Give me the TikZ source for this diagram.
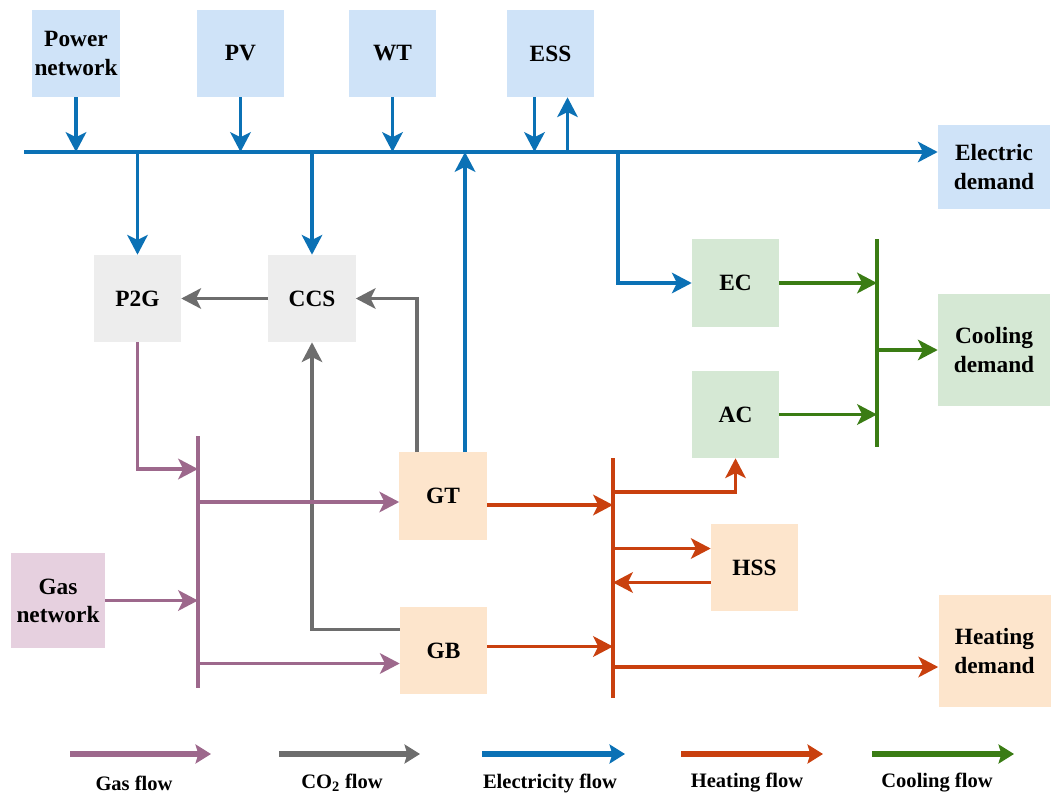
\documentclass[tikz,border=0pt]{standalone}
\usepackage{fontspec}
\setmainfont{Liberation Serif}
\usepackage{tikz}
\usetikzlibrary{arrows.meta,positioning,calc}
\usepackage{xcolor}
\definecolor{gascol}{RGB}{157,104,140}
\definecolor{cotwocol}{RGB}{109,109,109}
\definecolor{eleccol}{RGB}{11,113,181}
\definecolor{heatcol}{RGB}{201,64,14}
\definecolor{coolcol}{RGB}{58,124,20}
\definecolor{elecfill}{RGB}{207,227,248}
\definecolor{grayfill}{RGB}{237,237,237}
\definecolor{heatfill}{RGB}{253,229,204}
\definecolor{coolfill}{RGB}{213,232,212}
\definecolor{gasfill}{RGB}{230,208,223}

\begin{document}
\begin{tikzpicture}[x=0.025cm,y=-0.025cm,
  box/.style={minimum width=2.175cm,minimum height=2.175cm,inner sep=0pt,align=center,
    font=\fontsize{16.6}{20}\selectfont\bfseries},
  bigbox/.style={box,minimum width=2.8cm,minimum height=2.8cm},
  flow/.style={line width=2.6pt,-{Stealth[length=14pt,width=14.5pt,inset=3.5pt]}},
  bus/.style={line width=2.7pt},
  gasflow/.style={flow,draw=gascol},
  coflow/.style={flow,draw=cotwocol},
  elecflow/.style={flow,draw=eleccol},
  heatflow/.style={flow,draw=heatcol},
  coolflow/.style={flow,draw=coolcol},
  legarrow/.style={line width=4pt,-{Stealth[length=11pt,width=13.5pt,inset=2pt]}},
  legtext/.style={font=\fontsize{14.6}{16}\selectfont\bfseries}]
\useasboundingbox (0,0) rectangle (1062,807);

\node[box,fill=elecfill] (pn) at (76,53.5) {Power\\network};
\node[box,fill=elecfill] (pv) at (240.5,53.5) {PV};
\node[box,fill=elecfill] (wt) at (392.5,53.5) {WT};
\node[box,fill=elecfill] (ess) at (550.5,53.5) {ESS};
\node[box,fill=elecfill,minimum width=2.8cm,minimum height=2.1cm] (ed) at (994,167) {Electric\\demand};
\node[box,fill=grayfill] (p2g) at (137.5,298.5) {P2G};
\node[box,fill=grayfill] (ccs) at (312,298.5) {CCS};
\node[box,fill=coolfill] (ec) at (735.5,283) {EC};
\node[box,fill=coolfill] (ac) at (735.5,414.5) {AC};
\node[bigbox,fill=coolfill] (cd) at (994,350) {Cooling\\demand};
\node[box,fill=heatfill] (gt) at (443,496) {GT};
\node[box,fill=heatfill] (gb) at (443.5,650.5) {GB};
\node[box,fill=heatfill] (hss) at (754.5,567.5) {HSS};
\node[bigbox,fill=heatfill] (hd) at (994.5,651) {Heating\\demand};
\node[box,fill=gasfill,minimum width=2.35cm,minimum height=2.375cm] (gn) at (58,600.5) {Gas\\network};

\coordinate (busL) at (24,152);
\coordinate (gasT) at (198,436);
\coordinate (gasB) at (198,688);
\coordinate (heatT) at (613,458);
\coordinate (heatB) at (613,698);
\coordinate (coolT) at (877,239);
\coordinate (coolB) at (877,447);

% electricity
\draw[elecflow] (busL) -- (busL -| ed.west);
\draw[elecflow] (pn) -- (pn |- busL);
\draw[elecflow] (pv) -- (pv |- busL);
\draw[elecflow] (wt) -- (wt |- busL);
\coordinate (essIn) at ($(ess.south)+(-16,0)$);
\coordinate (essOut) at ($(ess.south)+(17,0)$);
\draw[elecflow] (essIn) -- (essIn |- busL);
\draw[elecflow] (essOut |- busL) -- (essOut);
\draw[elecflow] (p2g |- busL) -- (p2g);
\draw[elecflow] (ccs |- busL) -- (ccs);
\coordinate (gtUp) at ($(gt.north)+(22,0)$);
\draw[elecflow] (gtUp) -- (gtUp |- busL);
\coordinate (ecTap) at (618,152);
\draw[elecflow] (ecTap) |- (ec);

% CO2
\draw[coflow] (ccs) -- (p2g);
\coordinate (gtCo) at ($(gt.north)+(-26,0)$);
\draw[coflow] (gtCo) |- (ccs);
\coordinate (gbCo) at ($(gb.west)+(0,-21)$);
\draw[coflow] (gbCo) -| (ccs);

% gas
\draw[bus,gascol] (gasT) -- (gasB);
\coordinate (gasIn) at (198,469);
\draw[gasflow] (p2g) |- (gasIn);
\draw[gasflow] (gn) -- (gn -| gasT);
\coordinate (gtIn) at ($(gt.west)+(0,6)$);
\coordinate (gbIn) at ($(gb.west)+(0,13)$);
\draw[gasflow] (gtIn -| gasT) -- (gtIn);
\draw[gasflow] (gbIn -| gasT) -- (gbIn);

% heating
\draw[bus,heatcol] (heatT) -- (heatB);
\coordinate (gtOut) at ($(gt.east)+(0,9)$);
\coordinate (gbOut) at ($(gb.east)+(0,-4)$);
\draw[heatflow] (gtOut) -- (gtOut -| heatT);
\draw[heatflow] (gbOut) -- (gbOut -| heatT);
\coordinate (acTap) at (613,492);
\draw[heatflow] (acTap) -| (ac);
\coordinate (hssIn) at ($(hss.west)+(0,-19)$);
\coordinate (hssOut) at ($(hss.west)+(0,15)$);
\draw[heatflow] (hssIn -| heatT) -- (hssIn);
\draw[heatflow] (hssOut) -- (hssOut -| heatT);
\coordinate (hdIn) at ($(hd.west)+(0,16)$);
\draw[heatflow] (hdIn -| heatT) -- (hdIn);

% cooling
\draw[bus,coolcol] (coolT) -- (coolB);
\draw[coolflow] (ec) -- (ec -| coolT);
\draw[coolflow] (ac) -- (ac -| coolT);
\draw[coolflow] (coolT |- cd) -- (cd);

% legend
\foreach \col/\xa/\xb/\xt/\lbl in {gascol/70/211/134/Gas flow,
    cotwocol/279/420/342/CO\textsubscript{2} flow,
    eleccol/482/625/550/Electricity flow,
    heatcol/681/823/747/Heating flow,
    coolcol/872/1014/937/Cooling flow}{
  \coordinate (la) at (\xa,754);
  \coordinate (lb) at (\xb,754);
  \draw[legarrow,draw=\col] (la) -- (lb);
  \node[legtext] (lt) at (\xt,783) {\lbl};
}
\end{tikzpicture}
\end{document}
